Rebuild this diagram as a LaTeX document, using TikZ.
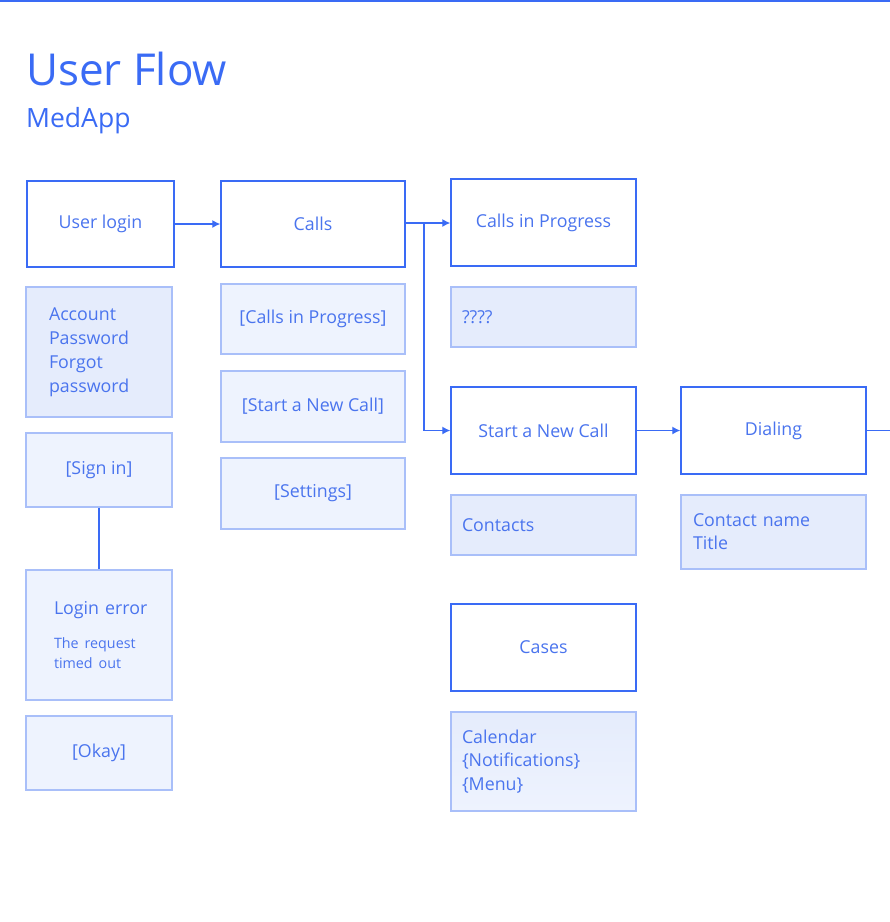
\documentclass[tikz,border=0pt]{standalone}
\usepackage{fontspec}
\setmainfont{Open Sans}
\usetikzlibrary{arrows.meta}
\definecolor{mainblue}{HTML}{3A6BF5}
\definecolor{txtblue}{HTML}{4A74EE}
\definecolor{lightborder}{HTML}{A9BFF9}
\definecolor{fillA}{HTML}{E5ECFC}
\definecolor{fillB}{HTML}{EEF3FE}
\tikzset{
  base/.style={font=\fontsize{17.8}{24}\selectfont, text=txtblue, inner sep=0pt},
  screen/.style={base, draw=mainblue, line width=1.4pt, fill=white, align=center},
  detailA/.style={base, draw=lightborder, line width=1.4pt, fill=fillA},
  detailB/.style={base, draw=lightborder, line width=1.4pt, fill=fillB, align=center},
  flow/.style={draw=mainblue, line width=1.3pt, -{Latex[length=8pt,width=8pt]}},
  plain/.style={draw=mainblue, line width=1.3pt},
}
\begin{document}
\begin{tikzpicture}[x=1pt,y=-1pt]
\useasboundingbox (0,0) rectangle (890,922);
\fill[white] (0,0) rectangle (890,922);
\draw[mainblue, line width=2pt] (0,1) -- (890,1);

\node[anchor=base west, inner sep=0pt, text=mainblue, font=\fontsize{44}{54}\selectfont] (title) at (26,85) {User Flow};
\node[anchor=base west, inner sep=0pt, text=mainblue, font=\fontsize{26.5}{32}\selectfont] (sub) at (26,127) {MedApp};

% screens
\node[screen, minimum width=147pt, minimum height=86pt] (login) at (100.5,224) {User login};
\node[screen, minimum width=184pt, minimum height=86pt] (calls) at (313,224) {Calls};
\node[screen, minimum width=185pt, minimum height=87pt] (cip) at (543.5,222.5) {Calls in Progress};
\node[screen, minimum width=185pt, minimum height=87pt] (snc) at (543.5,430.5) {Start a New Call};
\node[screen, minimum width=185pt, minimum height=87pt] (dial) at (773.5,430.5) {Dialing};
\node[screen, minimum width=185pt, minimum height=87pt] (cases) at (543.5,647.5) {Cases};

% details, left aligned
\node[detailA, minimum width=146pt, minimum height=130pt, text width=100pt, inner xsep=23pt, align=left] (acct) at (99,352) {Account\\Password\\Forgot\\password};
\node[detailA, minimum width=185pt, minimum height=60pt, text width=163pt, inner xsep=11pt, align=left] (q) at (543.5,317) {????};
\node[detailA, minimum width=185pt, minimum height=60pt, text width=163pt, inner xsep=11pt, align=left] (contacts) at (543.5,525) {Contacts};
\node[detailA, minimum width=185pt, minimum height=74pt, text width=161pt, inner xsep=12pt, align=left, font=\fontsize{17.8}{23}\selectfont] (cname) at (773.5,532) {Contact name\\Title};
\node[base, draw=lightborder, line width=1.4pt, top color=fillA, bottom color=fillB, minimum width=185pt, minimum height=99pt, text width=163pt, inner xsep=11pt, align=left, font=\fontsize{17.8}{23.5}\selectfont] (cal) at (543.5,761.5) {Calendar\\\{Notifications\}\\\{Menu\}};

% buttons
\node[detailB, minimum width=184pt, minimum height=70pt] (bcip) at (313,319) {[Calls in Progress]};
\node[detailB, minimum width=184pt, minimum height=71pt] (bsnc) at (313,406.5) {[Start a New Call]};
\node[detailB, minimum width=184pt, minimum height=71pt] (bset) at (313,493.5) {[Settings]};
\node[detailB, minimum width=146pt, minimum height=74pt] (signin) at (99,470) {[Sign in]};
\node[base, draw=lightborder, line width=1.4pt, fill=fillB, minimum width=146pt, minimum height=130pt, text width=90pt, inner xsep=28pt, align=left, font=\fontsize{17.8}{20}\selectfont] (lerr) at (99,635) {\mbox{Login error}\\[14pt]{\fontsize{14.3}{20}\selectfont \mbox{The request}\\\mbox{timed out}}};
\node[detailB, minimum width=146pt, minimum height=74pt] (okay) at (99,753) {[Okay]};

% connectors
\coordinate (br) at (424,223);
\coordinate (edge) at (890,430.5);
\draw[flow] (login.east) -- (calls.west);
\draw[flow] (calls.east |- br) -- (cip.west |- br);
\draw[flow] (br) |- (snc.west);
\draw[flow] (snc.east) -- (dial.west);
\draw[plain] (dial.east) -- (edge);
\draw[plain] (signin.south) -- (signin.south |- lerr.north);
\end{tikzpicture}
\end{document}
